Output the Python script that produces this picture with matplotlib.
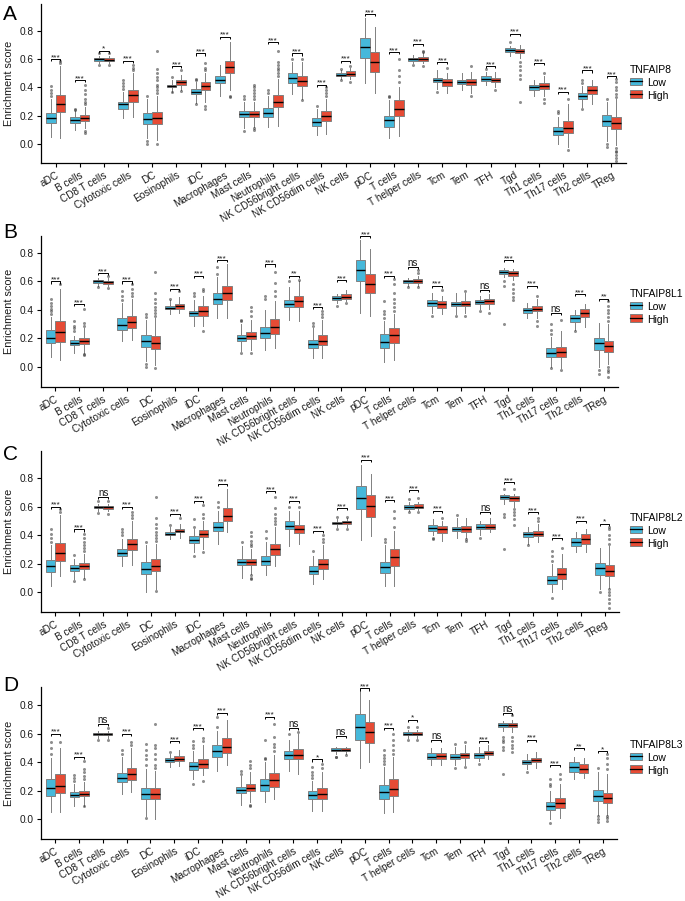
import numpy as np
import matplotlib
matplotlib.use("Agg")
import matplotlib.pyplot as plt
from matplotlib.patches import Rectangle
from matplotlib.lines import Line2D
from matplotlib.legend_handler import HandlerBase

plt.rcParams['font.family'] = ['Liberation Sans', 'DejaVu Sans']

cells = ["aDC", "B cells", "CD8 T cells", "Cytotoxic cells", "DC", "Eosinophils", "iDC",
         "Macrophages", "Mast cells", "Neutrophils", "NK CD56bright cells", "NK CD56dim cells",
         "NK cells", "pDC", "T cells", "T helper cells", "Tcm", "Tem", "TFH", "Tgd",
         "Th1 cells", "Th17 cells", "Th2 cells", "TReg"]
genes = ["TNFAIP8", "TNFAIP8L1", "TNFAIP8L2", "TNFAIP8L3"]
groups = ["Low", "High"]
yticks = [0.0, 0.2, 0.4, 0.6, 0.8]

# each box: (lower whisker, q1, median, q3, upper whisker)
A_low = [(0.05,0.146,0.18,0.22,0.32),(0.10,0.15,0.168,0.19,0.23),(0.57,0.588,0.598,0.61,0.625),
         (0.18,0.25,0.28,0.30,0.37),(0.04,0.14,0.175,0.22,0.32),(0.37,0.40,0.41,0.42,0.45),
         (0.29,0.35,0.365,0.39,0.44),(0.34,0.43,0.455,0.48,0.56),(0.11,0.19,0.21,0.235,0.30),
         (0.12,0.19,0.22,0.255,0.34),(0.35,0.43,0.465,0.50,0.58),(0.06,0.13,0.155,0.18,0.25),
         (0.46,0.48,0.49,0.50,0.52),(0.43,0.61,0.687,0.75,0.89),(0.04,0.12,0.17,0.20,0.31),
         (0.57,0.585,0.60,0.61,0.63),(0.39,0.435,0.452,0.468,0.52),(0.38,0.425,0.44,0.455,0.50),
         (0.42,0.447,0.46,0.48,0.51),(0.62,0.65,0.665,0.68,0.69),(0.34,0.385,0.405,0.42,0.45),
         (0.0,0.06,0.09,0.12,0.19),(0.26,0.32,0.34,0.36,0.41),(0.02,0.13,0.165,0.205,0.30)]
A_high = [(0.04,0.225,0.285,0.345,0.55),(0.11,0.165,0.185,0.205,0.26),(0.57,0.585,0.595,0.605,0.625),
          (0.19,0.30,0.345,0.38,0.50),(0.03,0.14,0.18,0.225,0.34),(0.38,0.42,0.435,0.45,0.49),
          (0.30,0.385,0.41,0.435,0.50),(0.38,0.50,0.545,0.59,0.72),(0.12,0.19,0.21,0.235,0.30),
          (0.13,0.26,0.30,0.345,0.46),(0.32,0.41,0.445,0.48,0.58),(0.07,0.165,0.195,0.23,0.32),
          (0.46,0.48,0.497,0.515,0.54),(0.36,0.51,0.58,0.65,0.83),(0.055,0.20,0.25,0.31,0.40),
          (0.57,0.59,0.603,0.615,0.64),(0.36,0.41,0.44,0.46,0.50),(0.36,0.42,0.44,0.46,0.51),
          (0.40,0.435,0.45,0.468,0.51),(0.61,0.64,0.656,0.675,0.70),(0.34,0.39,0.41,0.43,0.48),
          (-0.02,0.08,0.115,0.16,0.28),(0.28,0.35,0.385,0.41,0.45),(-0.01,0.105,0.145,0.19,0.32)]
A_low_out = [[0.34,0.36,0.38,0.41],[0.24,0.25],[0.56,0.64],[0.39,0.41,0.43,0.45],[0.02,0.0,0.34],
             [0.47,0.365],[0.45,0.46,0.28],[],[0.09,0.32,0.34],[0.36,0.38],[0.6],[0.27],[0.53,0.45],
             [],[0.33,0.34],[0.56],[0.37],[],[0.53],[0.72],[],[0.22,0.23],[0.43,0.45,0.25],[0.32,0.0,-0.02]]
A_high_out = [[0.57,0.59],[0.28,0.30,0.32,0.35,0.38,0.42,0.09,0.08],[0.555,0.645],[0.52,0.54,0.56],
              [0.36,0.38,0.40,0.42,0.45,0.47,0.50,0.53,0.66,0.0],[0.52,0.375],[0.52,0.54,0.57,0.27,0.25],
              [0.34,0.33],[0.10,0.11,0.32,0.34,0.36,0.38,0.40,0.42],[0.48,0.50,0.52,0.54,0.56,0.58,0.66],
              [0.60,0.31],[0.34,0.36,0.38,0.40],[0.55,0.44],[],[0.44,0.48,0.52,0.60],[0.65,0.66,0.55],
              [0.54],[0.55,0.34],[0.38],[0.58,0.55,0.52,0.49,0.46,0.30],[0.50,0.32,0.29],[0.32,-0.04],[],
              [0.33,0.35,0.38,0.40,0.44,0.46,-0.03,-0.05,-0.06,-0.08,-0.10,-0.12]]
A_sig = ["***","***","*","***","","***","***","***","","***","***","***",
         "***","***","***","***","***","","***","***","***","***","***","***"]
A_sigy = [0.60,0.45,0.66,0.59,None,0.55,0.64,0.76,None,0.72,0.64,0.42,
          0.59,0.92,0.65,0.71,0.58,None,0.55,0.78,0.57,0.37,0.52,0.48]

B_low = [(0.07,0.164,0.206,0.257,0.35),(0.10,0.15,0.17,0.187,0.22),(0.57,0.59,0.60,0.61,0.625),
         (0.18,0.26,0.295,0.34,0.45),(0.04,0.14,0.18,0.222,0.33),(0.37,0.405,0.415,0.43,0.47),
         (0.29,0.355,0.375,0.395,0.47),(0.34,0.44,0.48,0.52,0.63),(0.11,0.185,0.205,0.225,0.30),
         (0.12,0.20,0.235,0.28,0.40),(0.33,0.42,0.445,0.47,0.56),(0.06,0.135,0.16,0.19,0.27),
         (0.45,0.47,0.485,0.495,0.51),(0.38,0.60,0.68,0.75,0.89),(0.035,0.13,0.175,0.234,0.32),
         (0.57,0.59,0.60,0.61,0.625),(0.38,0.425,0.45,0.467,0.52),(0.37,0.43,0.44,0.455,0.52),
         (0.41,0.44,0.455,0.47,0.50),(0.63,0.655,0.67,0.68,0.695),(0.34,0.38,0.40,0.415,0.45),
         (0.0,0.07,0.10,0.135,0.21),(0.26,0.316,0.34,0.362,0.40),(0.0,0.117,0.165,0.20,0.31)]
B_high = [(0.045,0.175,0.245,0.32,0.55),(0.10,0.16,0.185,0.205,0.27),(0.57,0.585,0.594,0.605,0.625),
          (0.19,0.275,0.315,0.355,0.48),(0.01,0.125,0.17,0.215,0.34),(0.38,0.41,0.43,0.445,0.49),
          (0.29,0.36,0.39,0.425,0.50),(0.34,0.47,0.52,0.57,0.72),(0.12,0.195,0.22,0.245,0.33),
          (0.13,0.23,0.28,0.335,0.46),(0.32,0.42,0.46,0.50,0.60),(0.06,0.15,0.185,0.225,0.33),
          (0.46,0.477,0.49,0.51,0.54),(0.36,0.52,0.585,0.655,0.83),(0.05,0.17,0.225,0.27,0.37),
          (0.57,0.59,0.60,0.615,0.64),(0.37,0.415,0.44,0.46,0.50),(0.38,0.425,0.445,0.46,0.52),
          (0.41,0.44,0.46,0.48,0.51),(0.61,0.64,0.66,0.675,0.69),(0.34,0.39,0.41,0.425,0.48),
          (-0.01,0.07,0.105,0.14,0.25),(0.28,0.35,0.38,0.41,0.44),(0.02,0.105,0.145,0.183,0.30)]
B_low_out = [[0.37,0.39,0.41,0.43,0.45,0.48],[0.25,0.27,0.29,0.32],[0.56],[0.47,0.50,0.53],
             [0.35,0.37,0.02,0.0],[0.48],[0.50,0.52],[0.65,0.70],[0.10,0.32,0.33],[0.48,0.50],[0.60],
             [0.29,0.31],[0.43],[],[0.34,0.37,0.39,0.46],[0.56],[0.36],[0.355],[0.39],[0.60,0.57,0.30],
             [],[0.23,0.26,0.30,-0.01],[0.25],[-0.02,-0.05]]
B_high_out = [[0.58],[0.29,0.31,0.41,0.09,0.08],[0.555,0.64],[0.50,0.52,0.55,0.58],
              [0.36,0.38,0.40,0.42,0.45,0.48,0.52,0.67,-0.01],[0.53],[0.53,0.55,0.25],[],
              [0.10,0.36,0.39,0.42],[0.50,0.53,0.59,0.67],[0.61],[0.35,0.37,0.39],[0.45],[],
              [0.39,0.42,0.45,0.48,0.52,0.58,0.62],[0.66,0.68,0.56],[0.54],[0.53,0.36],[0.38],
              [0.58,0.55,0.52,0.49,0.47],[0.50,0.32,0.29],[0.33,-0.02],[],
              [0.32,0.35,0.38,0.40,0.43,0.46,0.0,-0.02,-0.04,-0.07]]
B_sig = ["***","***","***","***","","***","***","***","","***","**","***",
         "***","***","***","ns","***","","ns","***","***","ns","***","**"]
B_sigy = [0.60,0.44,0.66,0.60,None,0.55,0.64,0.75,None,0.72,0.64,0.42,
          0.61,0.92,0.64,0.70,0.57,None,0.54,0.75,0.57,0.38,0.51,0.48]

C_low = [(0.04,0.14,0.18,0.225,0.33),(0.09,0.15,0.17,0.19,0.23),(0.57,0.59,0.598,0.605,0.62),
         (0.18,0.255,0.275,0.30,0.37),(0.0,0.13,0.165,0.21,0.33),(0.37,0.40,0.41,0.42,0.46),
         (0.28,0.345,0.365,0.39,0.44),(0.34,0.43,0.46,0.49,0.57),(0.10,0.19,0.21,0.235,0.32),
         (0.12,0.19,0.22,0.255,0.35),(0.32,0.44,0.465,0.50,0.57),(0.06,0.13,0.15,0.18,0.25),
         (0.46,0.475,0.485,0.495,0.51),(0.365,0.585,0.662,0.744,0.89),(0.04,0.131,0.178,0.213,0.33),
         (0.57,0.585,0.598,0.608,0.63),(0.40,0.43,0.45,0.47,0.51),(0.38,0.43,0.445,0.46,0.52),
         (0.40,0.445,0.46,0.475,0.50),(0.62,0.65,0.665,0.678,0.69),(0.34,0.385,0.405,0.424,0.46),
         (0.0,0.056,0.085,0.115,0.20),(0.28,0.323,0.35,0.376,0.42),(0.02,0.12,0.166,0.206,0.31)]
C_high = [(0.11,0.22,0.275,0.345,0.54),(0.10,0.16,0.18,0.205,0.27),(0.57,0.585,0.595,0.605,0.62),
          (0.19,0.295,0.335,0.375,0.50),(0.02,0.145,0.18,0.23,0.34),(0.38,0.42,0.432,0.445,0.48),
          (0.30,0.385,0.405,0.435,0.50),(0.42,0.50,0.535,0.59,0.72),(0.13,0.19,0.21,0.235,0.30),
          (0.18,0.26,0.30,0.34,0.46),(0.34,0.415,0.445,0.47,0.57),(0.09,0.165,0.195,0.23,0.33),
          (0.46,0.48,0.49,0.50,0.52),(0.39,0.524,0.603,0.68,0.83),(0.045,0.182,0.243,0.30,0.43),
          (0.575,0.59,0.60,0.615,0.63),(0.36,0.417,0.44,0.463,0.50),(0.38,0.425,0.445,0.465,0.52),
          (0.42,0.445,0.46,0.48,0.52),(0.60,0.64,0.66,0.676,0.69),(0.35,0.395,0.41,0.43,0.48),
          (0.02,0.09,0.125,0.166,0.27),(0.28,0.34,0.37,0.405,0.44),(0.03,0.112,0.15,0.187,0.32)]
C_low_out = [[0.35,0.38,0.41,0.44],[0.08,0.26],[0.555,0.64],[0.40,0.42,0.44],[0.35],[0.47],
             [0.46,0.51,0.25],[0.60,0.63],[0.35],[0.38,0.43],[0.60],[0.29],[0.53,0.44],[],[0.35,0.37],
             [0.56,0.65],[0.38,0.37],[0.54],[0.38],[0.72,0.55,0.53,0.30],[0.33],[0.22,0.25,0.29,-0.04],
             [],[0.0]]
C_high_out = [[0.56,0.58],[0.29,0.31,0.33,0.35,0.38,0.41,0.09],[0.55,0.64],[0.52,0.54,0.56],
              [0.36,0.38,0.40,0.42,0.45,0.48,0.52,0.67,0.01],[0.52],[0.52,0.55,0.61,0.28],[],
              [0.09,0.10,0.12,0.32,0.34,0.36,0.39,0.42],[0.48,0.50,0.52,0.55,0.59,0.67],[0.60],
              [0.35,0.37,0.40],[0.53,0.44],[],[0.46,0.52,0.57],[0.66,0.56],[0.52],[0.37,0.36],[],
              [0.58,0.56,0.54,0.51,0.47,0.72],[0.50,0.52],[0.31],[],
              [0.34,0.37,0.40,0.44,0.46,0.02,0.0,-0.02,-0.05,-0.08,-0.11]]
C_sig = ["***","***","ns","***","","***","***","***","","***","***","***",
         "***","***","***","***","***","","ns","***","***","***","***","*"]
C_sigy = [0.60,0.44,0.67,0.60,None,0.55,0.64,0.76,None,0.71,0.64,0.43,
          0.59,0.93,0.645,0.715,0.57,None,0.56,0.77,0.56,0.38,0.50,0.48]

D_low = [(0.05,0.163,0.216,0.279,0.43),(0.09,0.155,0.17,0.19,0.25),(0.57,0.59,0.598,0.605,0.62),
         (0.18,0.26,0.29,0.323,0.44),(0.02,0.14,0.175,0.22,0.35),(0.37,0.40,0.415,0.43,0.46),
         (0.28,0.345,0.375,0.40,0.48),(0.34,0.44,0.48,0.52,0.62),(0.10,0.185,0.205,0.225,0.30),
         (0.12,0.20,0.24,0.285,0.40),(0.34,0.425,0.45,0.48,0.56),(0.06,0.14,0.17,0.195,0.27),
         (0.46,0.481,0.49,0.50,0.51),(0.36,0.56,0.651,0.737,0.905),(0.04,0.142,0.19,0.242,0.37),
         (0.57,0.59,0.60,0.614,0.63),(0.38,0.42,0.44,0.463,0.50),(0.38,0.425,0.44,0.455,0.51),
         (0.41,0.43,0.45,0.465,0.51),(0.62,0.65,0.665,0.677,0.69),(0.35,0.385,0.40,0.416,0.46),
         (0.0,0.063,0.095,0.12,0.20),(0.28,0.33,0.367,0.40,0.44),(0.03,0.125,0.163,0.207,0.33)]
D_high = [(0.05,0.186,0.236,0.32,0.50),(0.095,0.16,0.18,0.20,0.26),(0.57,0.59,0.598,0.605,0.62),
          (0.19,0.275,0.315,0.36,0.50),(0.0,0.14,0.175,0.22,0.34),(0.375,0.41,0.425,0.445,0.49),
          (0.31,0.36,0.39,0.42,0.52),(0.38,0.465,0.51,0.57,0.70),(0.12,0.195,0.22,0.245,0.33),
          (0.14,0.225,0.275,0.325,0.45),(0.32,0.42,0.45,0.495,0.60),(0.06,0.145,0.18,0.22,0.33),
          (0.46,0.48,0.49,0.50,0.51),(0.40,0.537,0.614,0.684,0.835),(0.05,0.163,0.214,0.28,0.44),
          (0.57,0.59,0.60,0.61,0.63),(0.38,0.42,0.443,0.465,0.50),(0.38,0.43,0.45,0.465,0.52),
          (0.42,0.45,0.465,0.48,0.52),(0.61,0.65,0.665,0.677,0.70),(0.36,0.40,0.415,0.43,0.47),
          (0.01,0.075,0.11,0.15,0.25),(0.29,0.323,0.355,0.385,0.43),(0.03,0.11,0.15,0.186,0.32)]
D_low_out = [[0.46,0.50,0.54],[0.27,0.29,0.31],[0.56],[0.46,0.49],[0.38,0.42,0.45,0.49,0.53,0.01],
             [0.47],[0.50,0.52,0.55,0.25],[0.65,0.72],[0.32,0.34],[0.42,0.43,0.56],[0.60],
             [0.29,0.31,0.33,0.37],[0.44,0.435],[],[0.39,0.41,0.43,0.45,0.49],[0.56,0.645],[],
             [0.53,0.36],[0.39],[0.58,0.56,0.54,0.51,0.49,0.32],[0.33],[0.23,0.25,0.28,-0.03],[],
             [0.36,0.0,0.02,-0.02]]
D_high_out = [[0.54],[0.28,0.30,0.33,0.35,0.41,0.09],[0.56,0.64],[0.52,0.54],
              [0.36,0.38,0.42,0.46,0.50,0.52,0.67],[],[0.55,0.57,0.27],[],[0.10,0.09,0.36,0.38,0.41],
              [0.48,0.51,0.53,0.58,0.67],[0.61],[0.36,0.39],[0.45],[],[0.46,0.49,0.52,0.56,0.60],
              [0.65,0.56],[],[0.54,0.37],[],[0.58,0.55,0.52,0.50,0.47,0.73],[],[0.28,0.32],[],
              [0.35,0.39,0.43,0.46,0.02,0.01,-0.01]]
D_sig = ["***","***","ns","***","","***","***","***","","***","ns","*",
         "ns","***","***","*","ns","","***","ns","***","***","**","*"]
D_sigy = [0.60,0.44,0.67,0.60,None,0.55,0.64,0.75,None,0.72,0.64,0.42,
          0.586,0.92,0.644,0.70,0.56,None,0.55,0.75,0.56,0.38,0.50,0.48]

BLUE = "#46B8DA"
RED = "#E64B35"
EDGE = "#808080"
TXT = "#1a1a1a"

W, H = 685, 901
fig = plt.figure(figsize=(W / 100, H / 100), dpi=100)

panels = [
    dict(letter="A", gene=genes[0], low=A_low, high=A_high, lo=A_low_out, ho=A_high_out, sig=A_sig, sigy=A_sigy,
         right=626, top=4, bottom=163, ylim=(-0.135, 0.99), let_y=5, leg_y=63),
    dict(letter="B", gene=genes[1], low=B_low, high=B_high, lo=B_low_out, ho=B_high_out, sig=B_sig, sigy=B_sigy,
         right=618, top=236, bottom=387, ylim=(-0.142, 0.92), let_y=223, leg_y=287),
    dict(letter="C", gene=genes[2], low=C_low, high=C_high, lo=C_low_out, ho=C_high_out, sig=C_sig, sigy=C_sigy,
         right=619, top=451, bottom=612, ylim=(-0.14, 0.99), let_y=445, leg_y=511),
    dict(letter="D", gene=genes[3], low=D_low, high=D_high, lo=D_low_out, ho=D_high_out, sig=D_sig, sigy=D_sigy,
         right=617, top=687, bottom=839, ylim=(-0.14, 0.93), let_y=676, leg_y=738),
]


class BoxHandler(HandlerBase):
    def __init__(self, color):
        super().__init__()
        self.color = color

    def create_artists(self, legend, orig_handle, xdescent, ydescent, width, height, fontsize, trans):
        w = width
        h = height
        rect = Rectangle((0, h * 0.1), w, h * 0.8, facecolor=self.color,
                         edgecolor=EDGE, lw=0.7, transform=trans)
        med = Line2D([0, w], [h * 0.5, h * 0.5], color="black", lw=0.9, transform=trans)
        return [rect, med]


def stats(boxes, outs):
    res = []
    for b, o in zip(boxes, outs):
        res.append(dict(whislo=b[0], q1=b[1], med=b[2], q3=b[3], whishi=b[4], fliers=o))
    return res


pos = np.arange(len(cells))
left = 41
for p in panels:
    ax = fig.add_axes([left / W, 1 - p["bottom"] / H, (p["right"] - left) / W, (p["bottom"] - p["top"]) / H])
    common = dict(widths=0.4, patch_artist=True, showcaps=False, manage_ticks=False,
                  whiskerprops=dict(color=EDGE, lw=0.7),
                  medianprops=dict(color="black", lw=1.0),
                  flierprops=dict(marker="o", markersize=2.2, markerfacecolor="#333333",
                                  markeredgecolor="none", alpha=0.55))
    ax.bxp(stats(p["low"], p["lo"]), positions=pos - 0.2,
           boxprops=dict(facecolor=BLUE, edgecolor=EDGE, lw=0.7), **common)
    ax.bxp(stats(p["high"], p["ho"]), positions=pos + 0.2,
           boxprops=dict(facecolor=RED, edgecolor=EDGE, lw=0.7), **common)
    for i, (s, y) in enumerate(zip(p["sig"], p["sigy"])):
        if not s:
            continue
        ax.plot([i - 0.2, i - 0.2, i + 0.2, i + 0.2], [y - 0.015, y, y, y - 0.015],
                color="black", lw=0.7, solid_capstyle="butt")
        off = 0.0 if "*" in s else 0.6
        fs = 6.0 if "*" in s else 7.0
        ax.annotate(s, (i, y), xytext=(0, off), textcoords="offset points",
                    ha="center", va="baseline", fontsize=fs, color=TXT)
    ax.set_xlim(-0.6, len(cells) - 0.4)
    ax.set_ylim(*p["ylim"])
    ax.set_yticks(yticks)
    ax.set_yticklabels([f"{t:.1f}" for t in yticks], fontsize=7.3, color=TXT)
    ax.set_xticks(pos)
    ax.set_xticklabels(cells, rotation=30, ha="right", rotation_mode="anchor", fontsize=7.2, color=TXT)
    ax.tick_params(axis="both", direction="out", length=3, width=0.8, color="black", pad=2)
    for sp in ["top", "right"]:
        ax.spines[sp].set_visible(False)
    for sp in ["left", "bottom"]:
        ax.spines[sp].set_linewidth(0.9)
    ax.set_ylabel("Enrichment score", fontsize=7.8, color=TXT, labelpad=4)
    fig.text(3 / W, 1 - p["let_y"] / H, p["letter"], fontsize=15, va="top", ha="left", color="black")
    h1 = Rectangle((0, 0), 1, 1)
    h2 = Rectangle((0, 0), 1, 1)
    leg = fig.legend([h1, h2], groups, title=p["gene"], loc="upper left",
                     bbox_to_anchor=(628 / W, 1 - p["leg_y"] / H), frameon=False,
                     fontsize=7.5, title_fontsize=7.5, handlelength=1.1, handleheight=1.0,
                     handletextpad=0.5, labelspacing=0.25, borderpad=0.2, borderaxespad=0,
                     handler_map={h1: BoxHandler(BLUE), h2: BoxHandler(RED)})
    leg._legend_box.align = "left"

fig.savefig("out.png", dpi=100)
